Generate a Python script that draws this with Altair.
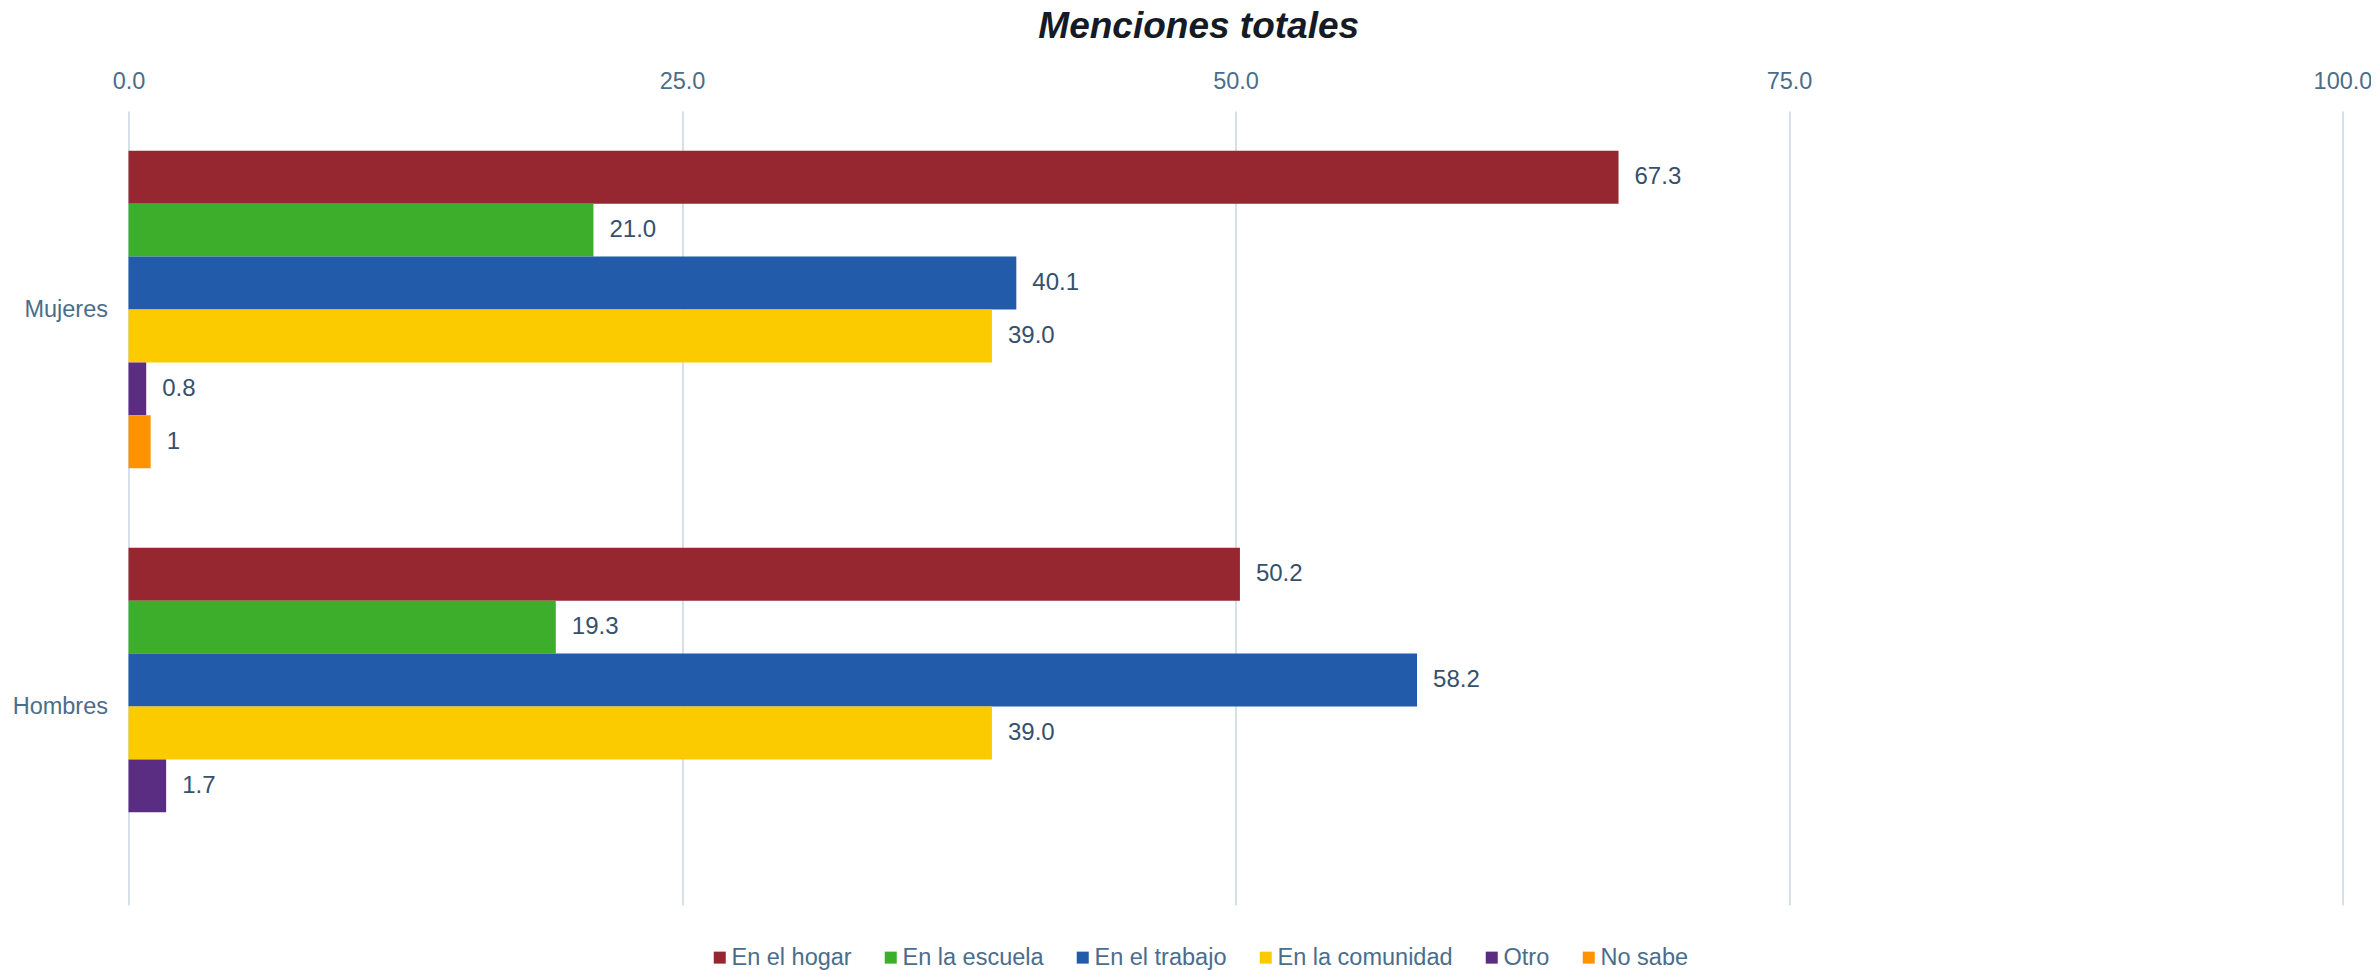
import altair as alt
import pandas as pd

# ---- data ----
grupos = ["Mujeres", "Hombres"]
categorias = ["En el hogar", "En la escuela", "En el trabajo", "En la comunidad", "Otro", "No sabe"]
colores = ["#962630", "#3DAE2B", "#215BA9", "#FBCB00", "#5B2D82", "#FF9200"]

mujeres_categorias = ["En el hogar", "En la escuela", "En el trabajo", "En la comunidad", "Otro", "No sabe"]
mujeres_valores = [67.3, 21.0, 40.1, 39.0, 0.8, 1.0]
mujeres_etiquetas = ["67.3", "21.0", "40.1", "39.0", "0.8", "1"]

hombres_categorias = ["En el hogar", "En la escuela", "En el trabajo", "En la comunidad", "Otro"]
hombres_valores = [50.2, 19.3, 58.2, 39.0, 1.7]
hombres_etiquetas = ["50.2", "19.3", "58.2", "39.0", "1.7"]

x_ticks = [0, 25, 50, 75, 100]
titulo = "Menciones totales"

rows = []
for c, v, e in zip(mujeres_categorias, mujeres_valores, mujeres_etiquetas):
    rows.append({"grupo": "Mujeres", "categoria": c, "valor": v, "etiqueta": e})
for c, v, e in zip(hombres_categorias, hombres_valores, hombres_etiquetas):
    rows.append({"grupo": "Hombres", "categoria": c, "valor": v, "etiqueta": e})
df = pd.DataFrame(rows)

FONT = "Liberation Sans"
AXIS_COLOR = "#4a6d8c"
VALUE_COLOR = "#35506d"

base = alt.Chart(df).encode(
    y=alt.Y(
        "grupo:N",
        sort=grupos,
        scale=alt.Scale(domain=grupos, paddingInner=0.2, paddingOuter=0.1),
        axis=alt.Axis(
            title=None, domain=False, ticks=False, tickSize=0, grid=False,
            labelFont=FONT, labelFontSize=23.5, labelColor=AXIS_COLOR, labelPadding=21,
        ),
    ),
    yOffset=alt.YOffset(
        "categoria:N",
        scale=alt.Scale(domain=categorias, paddingInner=0, paddingOuter=0),
    ),
    x=alt.X(
        "valor:Q",
        scale=alt.Scale(domain=[0, 100], nice=False, zero=True),
        axis=alt.Axis(
            orient="top", title=None, values=x_ticks, format=".1f",
            domain=False, ticks=False, tickSize=0, labelPadding=18,
            labelFlush=False,
            labelFont=FONT, labelFontSize=23.5, labelColor=AXIS_COLOR,
            grid=True, gridColor="#c8d6e4", gridWidth=1.5,
        ),
    ),
)

bars = base.mark_bar().encode(
    color=alt.Color(
        "categoria:N",
        scale=alt.Scale(domain=categorias, range=colores),
        legend=alt.Legend(
            title=None, orient="none", legendX=579.5, legendY=834.5,
            direction="horizontal", columns=6,
            symbolType="square", symbolSize=144, symbolStrokeWidth=0,
            labelFont=FONT, labelFontSize=23.5, labelColor=AXIS_COLOR,
            labelOffset=0, columnPadding=27, labelLimit=0,
        ),
    )
)

text = base.mark_text(
    align="left", baseline="middle", dx=16,
    font=FONT, fontSize=24, color=VALUE_COLOR,
).encode(text="etiqueta:N")

chart = (
    alt.layer(bars, text)
    .properties(
        width=2214,
        height=794,
        autosize=alt.AutoSizeParams(type="none"),
        padding={"left": 120.5, "top": 103, "right": 28.5, "bottom": 66},
        view=alt.ViewBackground(stroke="transparent", strokeWidth=0),
        title=alt.TitleParams(
            text=titulo, font=FONT, fontSize=37, fontWeight="bold",
            fontStyle="italic", color="#151b24", anchor="middle",
            frame="group", dx=-36.8, dy=5.5, offset=0, baseline="alphabetic",
        ),
    )
    .configure_view(strokeWidth=0, stroke="transparent")
    .configure(background="white")
)

chart.save("out.html", embed_options={"renderer": "svg", "actions": False})
